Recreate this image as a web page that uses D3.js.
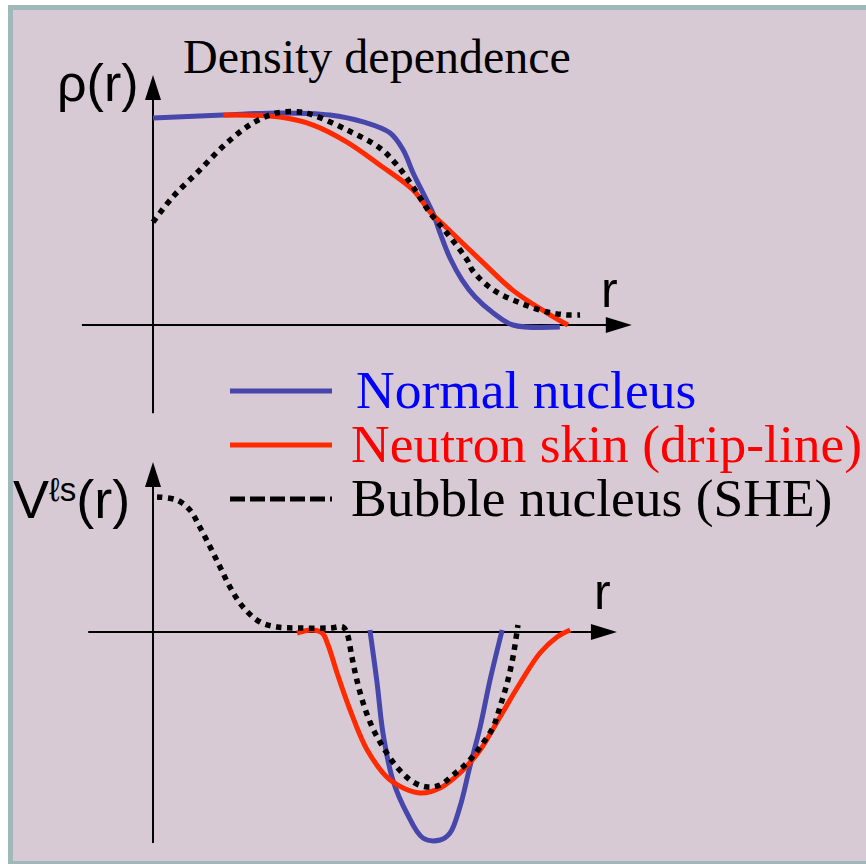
<!DOCTYPE html>
<html>
<head>
<meta charset="utf-8">
<script src="https://cdn.jsdelivr.net/npm/d3@7"></script>
<style>
  body { margin: 0; background: #fff; }
</style>
</head>
<body>
<div id="chart"></div>
<script>
// density panel, r in arbitrary units, rho normalised to the central density
const rhoNormal = [[0, 0.986], [1.56, 1.0], [2.82, 1.01], [3.93, 1.0], [4.67, 0.967], [5.27, 0.914], [5.56, 0.833],
  [5.78, 0.724], [6.0, 0.629], [6.22, 0.533], [6.38, 0.438], [6.6, 0.319], [6.87, 0.214], [7.16, 0.133], [7.56, 0.057],
  [8.0, 0.0], [9.04, -0.01]];
const rhoSkin = [[1.56, 1.0], [2.82, 0.99], [3.56, 0.952], [4.31, 0.871], [5.04, 0.762], [5.78, 0.643], [6.16, 0.538],
  [6.53, 0.462], [7.27, 0.31], [8.0, 0.165], [8.76, 0.057], [9.22, 0.0]];
const rhoBubble = [[0, 0.49], [0.44, 0.61], [1.04, 0.738], [1.64, 0.867], [2.22, 0.962], [2.76, 1.01], [3.27, 1.014],
  [3.56, 1.0], [4.31, 0.929], [5.04, 0.843], [5.42, 0.762], [5.78, 0.657], [6.16, 0.533], [6.53, 0.438], [6.98, 0.31],
  [7.11, 0.257], [7.56, 0.167], [8.16, 0.105], [8.76, 0.062], [9.2, 0.048], [9.49, 0.048]];

// spin-orbit potential panel
const vNormal = [[4.82, 0.01], [4.98, -0.255], [5.11, -0.505], [5.33, -0.74], [5.64, -0.905], [6.0, -1.03], [6.38, -1.04],
  [6.6, -1.005], [6.82, -0.875], [7.04, -0.675], [7.27, -0.475], [7.49, -0.24], [7.76, 0.01]];
const vSkin = [[3.2, -0.005], [3.53, 0.01], [3.76, -0.005], [3.89, -0.065], [4.09, -0.205], [4.38, -0.39], [4.76, -0.59],
  [5.27, -0.74], [5.93, -0.805], [6.38, -0.78], [6.82, -0.705], [7.27, -0.59], [7.71, -0.425], [8.16, -0.255],
  [8.6, -0.105], [8.98, -0.025], [9.27, 0.01]];
const vBubble = [[0.09, 0.675], [0.53, 0.66], [0.82, 0.61], [1.04, 0.525], [1.27, 0.425], [1.49, 0.325], [1.71, 0.225],
  [2.0, 0.125], [2.38, 0.05], [2.76, 0.025], [3.27, 0.02], [3.93, 0.02], [4.22, 0.025], [4.31, -0.005], [4.42, -0.125],
  [4.53, -0.24], [4.67, -0.355], [4.87, -0.475], [5.11, -0.575], [5.42, -0.675], [5.78, -0.75], [6.09, -0.775],
  [6.38, -0.765], [6.67, -0.715], [6.98, -0.655], [7.27, -0.575], [7.56, -0.475], [7.71, -0.375], [7.87, -0.255],
  [8.0, -0.125], [8.11, 0.035]];

const legendLabels = ["Normal nucleus", "Neutron skin (drip-line)", "Bubble nucleus (SHE)"];

const width = 866, height = 864;
const blue = "#4646ab", red = "#ff2a00";
const serif = "'Liberation Serif', 'Times New Roman', serif";
const sans = "'Liberation Sans', Arial, sans-serif";

const svg = d3.select("#chart")
    .append("svg")
    .attr("width", width)
    .attr("height", height);

// slide frame
svg.append("rect").attr("x", 8).attr("y", 5).attr("width", width).attr("height", 859).attr("fill", "#a0b8ba");
svg.append("rect").attr("x", 13).attr("y", 10).attr("width", width).attr("height", 851).attr("fill", "#d8cad4");

const x = d3.scaleLinear().domain([0, 10]).range([153, 603]);
const yTop = d3.scaleLinear().domain([0, 1]).range([325, 115]);
const yBot = d3.scaleLinear().domain([0, 1]).range([632, 432]);

function arrowAxes(ys, xMin, xMax, yMin, yMax) {
    const g = svg.append("g");
    const x0 = x(0), y0 = ys(0);
    const xTip = x(xMax), yTip = ys(yMax);
    g.append("line").attr("x1", x(xMin)).attr("x2", xTip - 20).attr("y1", y0).attr("y2", y0)
        .attr("stroke", "#000").attr("stroke-width", 2);
    g.append("line").attr("x1", x0).attr("x2", x0).attr("y1", ys(yMin)).attr("y2", yTip + 20)
        .attr("stroke", "#000").attr("stroke-width", 2);
    g.append("path")
        .attr("d", `M${xTip},${y0} L${xTip - 26},${y0 - 8} L${xTip - 26},${y0 + 8} Z`)
        .attr("fill", "#000");
    g.append("path")
        .attr("d", `M${x0},${yTip} L${x0 - 8},${yTip + 25} L${x0 + 8},${yTip + 25} Z`)
        .attr("fill", "#000");
}

function drawCurve(data, ys, color, dotted) {
    const line = d3.line()
        .x(d => x(d[0]))
        .y(d => ys(d[1]))
        .curve(d3.curveCatmullRom.alpha(0.5));
    svg.append("path")
        .datum(data)
        .attr("d", line)
        .attr("fill", "none")
        .attr("stroke", color)
        .attr("stroke-width", dotted ? 5.5 : 5)
        .attr("stroke-dasharray", dotted ? "5.5,5.5" : null);
}

// top: density
arrowAxes(yTop, -1.58, 10.64, -0.42, 1.19);
drawCurve(rhoNormal, yTop, blue, false);
drawCurve(rhoSkin, yTop, red, false);
drawCurve(rhoBubble, yTop, "#000", true);

// bottom: spin-orbit potential
arrowAxes(yBot, -1.44, 10.31, -1.055, 0.85);
drawCurve(vNormal, yBot, blue, false);
drawCurve(vSkin, yBot, red, false);
drawCurve(vBubble, yBot, "#000", true);

// labels
svg.append("text").attr("x", 183).attr("y", 73).attr("font-family", serif).attr("font-size", 48)
    .text("Density dependence");
svg.append("text").attr("x", 57).attr("y", 101).attr("font-family", sans).attr("font-size", 52)
    .text("ρ(r)");
svg.append("text").attr("x", 601).attr("y", 307).attr("font-family", sans).attr("font-size", 50).text("r");
svg.append("text").attr("x", 594).attr("y", 609).attr("font-family", sans).attr("font-size", 50).text("r");

const vlab = svg.append("text").attr("x", 13).attr("y", 518).attr("font-family", sans).attr("font-size", 54);
vlab.append("tspan").text("V");
vlab.append("tspan").attr("font-size", 33).attr("dy", -17).text("ℓs");
vlab.append("tspan").attr("dy", 17).text("(r)");

// legend
const legend = [
    { label: legendLabels[0], stroke: blue, text: "#0000ff", dash: null, y: 391, tx: 356 },
    { label: legendLabels[1], stroke: red, text: "#ff0000", dash: null, y: 445, tx: 351 },
    { label: legendLabels[2], stroke: "#000", text: "#000", dash: "15,5", y: 499, tx: 351 }
];
legend.forEach(d => {
    svg.append("line").attr("x1", 230).attr("x2", 332).attr("y1", d.y).attr("y2", d.y)
        .attr("stroke", d.stroke).attr("stroke-width", 5).attr("stroke-dasharray", d.dash);
    svg.append("text").attr("x", d.tx).attr("y", d.y + 17)
        .attr("font-family", serif).attr("font-size", 53.5).attr("fill", d.text)
        .text(d.label);
});
</script>
</body>
</html>
